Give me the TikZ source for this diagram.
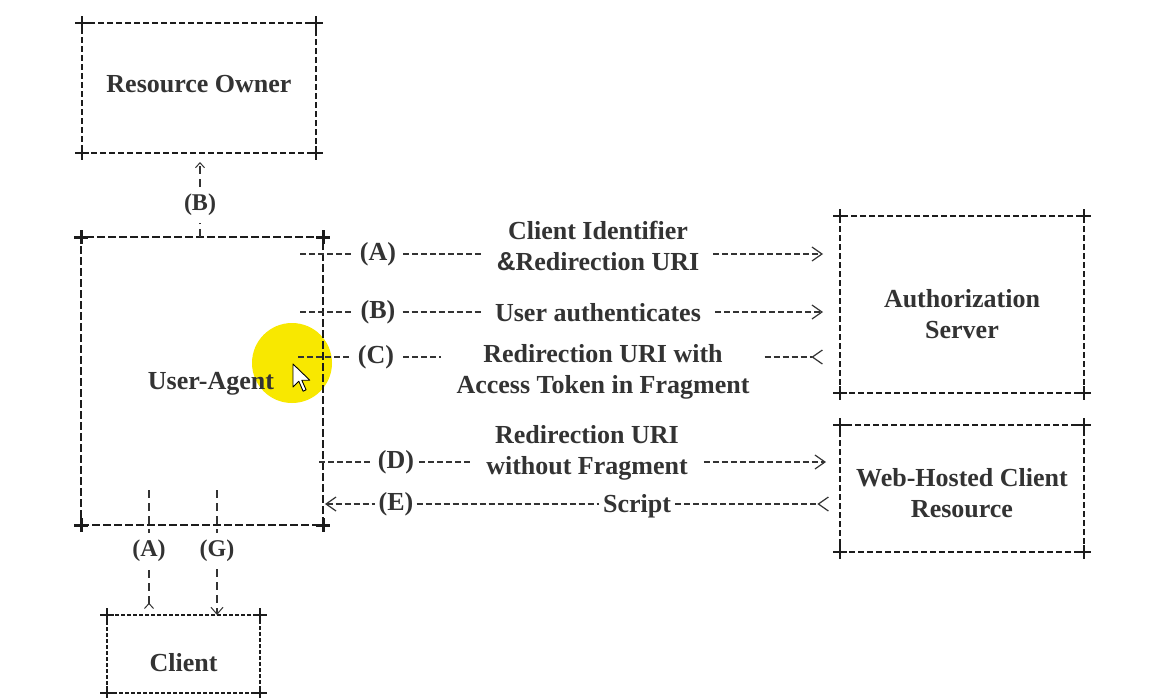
\documentclass[tikz,border=0pt]{standalone}
\usepackage{fontspec}
\setmainfont{Liberation Serif}
\newfontfamily\ampfont{Liberation Sans}
\usetikzlibrary{arrows.meta,positioning}
\tikzset{>=latex}
\definecolor{ink}{HTML}{333333}
\definecolor{rule}{HTML}{1C1C1C}
\definecolor{hilite}{HTML}{F8E800}
\tikzset{
  box/.style={draw=rule,line width=1.5pt,dash pattern=on 6pt off 3pt,outer sep=0pt,inner sep=0pt,
    font=\bfseries\fontsize{26}{31}\selectfont,text=ink,align=center},
  lab/.style={font=\bfseries\fontsize{26}{31}\selectfont,text=ink,inner sep=7pt},
  boxtext/.style={lab,align=center},
  small/.style={font=\bfseries\fontsize{24}{28}\selectfont,text=ink,inner sep=7pt},
  txt/.style={font=\bfseries\fontsize{26}{31}\selectfont,text=ink,align=center,inner xsep=14pt},
  flow/.style={draw=ink,line width=1.1pt,dash pattern=on 6pt off 3pt},
  vflow/.style={draw=ink,line width=1.1pt,dash pattern=on 8pt off 5pt},
  tipR/.style={-{Straight Barb[length=10pt,width=14pt,line width=1.2pt]}},
  tipL/.style={-{Straight Barb[reversed,length=10pt,width=14pt,line width=1.2pt]}},
}
\newcommand{\pluscorners}[2]{%
  \foreach \c in {north west,north east,south west,south east}
    \draw[rule,line width=#2] (#1.\c) ++(-7,0) -- ++(14,0) (#1.\c) ++(0,-7) -- ++(0,14);}

\begin{document}
\begin{tikzpicture}[x=1pt,y=-1pt]
\useasboundingbox[fill=white] (0,0) rectangle (1156,697);
% highlight under the pointer
\fill[hilite] (292,363) circle (40);

% boxes
\node[box,minimum width=234,minimum height=130,
  label={[boxtext,yshift=4pt]center:Resource Owner}] (ro) at (199,88) {};
\node[box,line width=2.4pt,dash pattern=on 8pt off 3pt,minimum width=242,minimum height=288,
  label={[lab,xshift=9pt,yshift=-3pt]center:User-Agent}] (ua) at (202,381) {};
\node[box,line width=1.8pt,minimum width=244,minimum height=177,
  label={[boxtext,yshift=-10pt]center:Authorization\\[0pt]Server}] (as) at (962,304.5) {};
\node[box,minimum width=244,minimum height=127,
  label={[boxtext,yshift=-5pt]center:Web-Hosted Client\\[0pt]Resource}] (wh) at (962,488.5) {};
\node[box,line width=1.2pt,dash pattern=on 4pt off 2pt,minimum width=153,minimum height=78,
  label={[lab,yshift=-9pt]center:Client}] (cl) at (183.5,654) {};
\pluscorners{ro}{2pt}
\pluscorners{ua}{3pt}
\pluscorners{as}{2pt}
\pluscorners{wh}{2pt}
\pluscorners{cl}{1.2pt}

% (A)
\node[lab] (lA) at (378,254) {(A)};
\node[txt] (tA) at (598,246) {Client Identifier\\{\ampfont\&}Redirection URI};
\coordinate (a0) at (300,254);
\coordinate (a1) at (823,254);
\draw[flow] (a0) -- (lA);
\draw[flow] (lA) -- (lA -| tA.west);
\draw[flow,tipR] (lA -| tA.east) -- (a1);

% (B)
\node[lab] (lB) at (378,312) {(B)};
\node[txt] (tB) at (598,313) {User authenticates};
\coordinate (b0) at (300,312);
\coordinate (b1) at (823,312);
\draw[flow] (b0) -- (lB);
\draw[flow] (lB) -- (lB -| tB.west);
\draw[flow,tipR] (lB -| tB.east) -- (b1);

% (C)
\node[lab,inner sep=9pt] (lC) at (376,357) {(C)};
\node[txt,inner xsep=15pt] (tC) at (603,372) {Redirection URI with\\Access Token in Fragment};
\coordinate (c0) at (298,357);
\coordinate (c1) at (823,357);
\draw[flow] (c0) -- (lC);
\draw[flow] (lC) -- (lC -| tC.west);
\draw[flow,tipL] (lC -| tC.east) -- (c1);

% (D)
\node[lab,inner sep=5pt] (lD) at (396,462) {(D)};
\node[txt,inner xsep=16pt] (tD) at (587,453) {Redirection URI\\without Fragment};
\coordinate (d0) at (319,462);
\coordinate (d1) at (826,462);
\draw[flow] (d0) -- (lD);
\draw[flow] (lD) -- (lD -| tD.west);
\draw[flow,tipR] (lD -| tD.east) -- (d1);

% (E)
\node[lab,inner sep=3pt] (lE) at (396,504) {(E)};
\node[txt,inner xsep=4pt] (tE) at (637,506) {Script};
\coordinate (e0) at (325,504);
\coordinate (e1) at (829,504);
\draw[flow,{Straight Barb[length=10pt,width=14pt,line width=1.2pt]}-] (e0) -- (lE);
\draw[flow] (lE) -- (lE -| tE.west);
\draw[flow,tipL] (lE -| tE.east) -- (e1);

% resource owner link
\node[small] (lRO) at (200,205) {(B)};
\draw[vflow] (ua.north -| lRO) -- (lRO);
\draw[vflow,-{Straight Barb[length=5pt,width=9pt,line width=1pt]},shorten >=9pt] (lRO) -- (ro.south -| lRO);

% client links
\node[small] (lCA) at (149,551) {(A)};
\node[small] (lCG) at (217,551) {(G)};
\coordinate (uA) at (149,490);
\coordinate (uG) at (217,490);
\draw[vflow] (uA) -- (lCA);
\draw[vflow] (uG) -- (lCG);
\draw[vflow,{Straight Barb[reversed,length=5pt,width=9pt,line width=1pt]}-,shorten <=6pt] (cl.north -| lCA) -- (lCA);
\draw[vflow,-{Straight Barb[length=7pt,width=12pt,line width=1pt]}] (lCG) -- (cl.north -| lCG);

% pointer
\draw[fill=white,line width=0.9pt,line join=round] (293,364) -- ++(0,23) -- ++(5.8,-5.8) -- ++(4.3,10) -- ++(3,-1.4) -- ++(-4.3,-9.6) -- ++(8,0) -- cycle;
\end{tikzpicture}
\end{document}
